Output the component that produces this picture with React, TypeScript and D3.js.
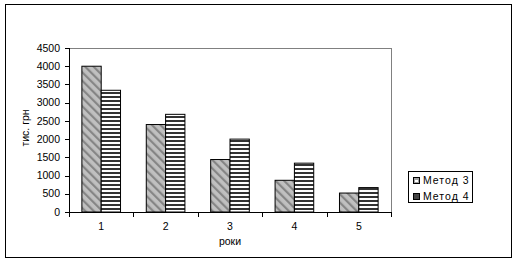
import React from "react";
import * as d3 from "d3";

const categories = ["1", "2", "3", "4", "5"];
const seriesNames = ["Метод 3", "Метод 4"];
const method3 = [4000, 2400, 1440, 870, 520];
const method4 = [3340, 2680, 2000, 1340, 670];
const yTicks = [0, 500, 1000, 1500, 2000, 2500, 3000, 3500, 4000, 4500];

const W = 517, H = 263;
const plot = { left: 69, right: 391, top: 48, bottom: 212 };
const font = "Liberation Sans, Arial, sans-serif";

export default function App() {
  const x = d3.scaleBand<string>().domain(categories).range([plot.left, plot.right]).padding(0);
  const y = d3.scaleLinear().domain([0, 4500]).range([plot.bottom, plot.top]);
  const barW = x.bandwidth() * 0.3;
  const series = [method3, method4];
  const fills = ["url(#diag)", "url(#horiz)"];

  return (
    <svg width={W} height={H} style={{ position: "absolute", left: 0, top: 0, background: "#fff" }} fontFamily={font}>
      <defs>
        <pattern id="diag" patternUnits="userSpaceOnUse" width={6} height={6} patternTransform="rotate(-45)">
          <rect width={6} height={6} fill="#c0c0c0" />
          <rect x={0} y={0} width={2.2} height={6} fill="#858585" />
        </pattern>
        <pattern id="horiz" patternUnits="userSpaceOnUse" width={8} height={4} y={plot.bottom}>
          <rect width={8} height={4} fill="#ffffff" />
          <rect x={0} y={0} width={8} height={2} fill="#333333" />
        </pattern>
      </defs>
      <rect x={5.5} y={4.5} width={506} height={253} fill="#fff" stroke="#000" strokeWidth={1} />
      <line x1={plot.left} x2={plot.right} y1={plot.top + 0.5} y2={plot.top + 0.5} stroke="#808080" />
      <line x1={plot.right + 0.5} x2={plot.right + 0.5} y1={plot.top} y2={plot.bottom} stroke="#808080" />
      {series.map((vals, si) =>
        vals.map((v, i) => {
          const cx = (x(categories[i]) as number) + x.bandwidth() / 2;
          const bx = cx - barW + si * barW;
          return (
            <rect key={`${si}-${i}`} x={bx} y={y(v)} width={barW} height={plot.bottom - y(v)}
              fill={fills[si]} stroke="#000" strokeWidth={1} />
          );
        })
      )}
      <line x1={plot.left + 0.5} x2={plot.left + 0.5} y1={plot.top} y2={plot.bottom} stroke="#000" />
      <line x1={plot.left} x2={plot.right + 1} y1={plot.bottom + 0.5} y2={plot.bottom + 0.5} stroke="#000" />
      {yTicks.map((t) => (
        <g key={t}>
          <line x1={plot.left - 4} x2={plot.left} y1={Math.round(y(t)) + 0.5} y2={Math.round(y(t)) + 0.5} stroke="#000" />
          <text x={plot.left - 9} y={y(t)} dy="0.35em" textAnchor="end" fontSize={10.5} fill="#000">{t}</text>
        </g>
      ))}
      {categories.map((c) => (
        <g key={c}>
          <line x1={Math.round(x(c) as number) + 0.5} x2={Math.round(x(c) as number) + 0.5} y1={plot.bottom} y2={plot.bottom + 5} stroke="#000" />
          <text x={(x(c) as number) + x.bandwidth() / 2} y={226} dy="0.35em" textAnchor="middle" fontSize={10.5}>{c}</text>
        </g>
      ))}
      <line x1={plot.right + 0.5} x2={plot.right + 0.5} y1={plot.bottom} y2={plot.bottom + 5} stroke="#000" />
      <text x={230} y={241} dy="0.35em" textAnchor="middle" fontSize={10.5}>роки</text>
      <text transform={`translate(25,128) rotate(-90)`} textAnchor="middle" dy="0.35em" fontSize={10.5}>тис. грн</text>
      <rect x={408.5} y={171.5} width={64} height={31} fill="#fff" stroke="#000" />
      {seriesNames.map((n, i) => (
        <g key={n}>
          <rect x={413.5} y={177.5 + i * 16} width={6} height={6} fill={i === 0 ? "#a0a0a0" : "#444"} stroke="#000" />
          {i === 1 && <rect x={415} y={180} width={3} height={2} fill="#fff" />}
          <text x={423} y={180.5 + i * 16} dy="0.35em" fontSize={10.5} letterSpacing={1}>{n}</text>
        </g>
      ))}
    </svg>
  );
}
